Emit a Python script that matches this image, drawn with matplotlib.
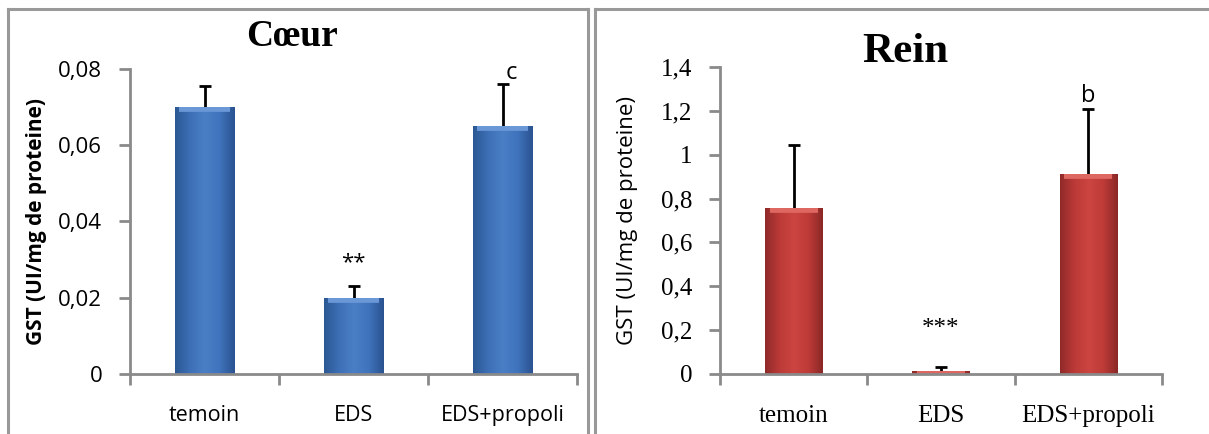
import matplotlib
matplotlib.use("Agg")
import matplotlib.pyplot as plt
import numpy as np
from matplotlib.colors import LinearSegmentedColormap
from matplotlib.lines import Line2D

categories = ["temoin", "EDS", "EDS+propoli"]

coeur_values = [0.070, 0.020, 0.065]
coeur_errors = [0.0055, 0.003, 0.011]
coeur_ticks = [0, 0.02, 0.04, 0.06, 0.08]
coeur_ticklabels = ["0", "0,02", "0,04", "0,06", "0,08"]
coeur_marks = ["", "**", "c"]
coeur_mark_y = [0.0, 0.0291, 0.0790]

rein_values = [0.755, 0.015, 0.910]
rein_errors = [0.290, 0.015, 0.300]
rein_ticks = [0, 0.2, 0.4, 0.6, 0.8, 1.0, 1.2, 1.4]
rein_ticklabels = ["0", "0,2", "0,4", "0,6", "0,8", "1", "1,2", "1,4"]
rein_marks = ["", "***", "b"]
rein_mark_y = [0.0, 0.205, 1.27]

W, H = 1209, 434
fig = plt.figure(figsize=(W / 100, H / 100), dpi=100)
fig.patch.set_facecolor("white")

GRAY = "#8a8a8a"


def px_axes(x0, x1, ytop, ybot):
    return fig.add_axes([x0 / W, (H - ybot) / H, (x1 - x0) / W, (ybot - ytop) / H])


def gradient_bars(ax, bars, cmap, hilite):
    grad = np.linspace(0, 1, 256).reshape(1, -1)
    for b in bars:
        x, y = b.get_x(), b.get_y()
        w, h = b.get_width(), b.get_height()
        im = ax.imshow(grad, cmap=cmap, aspect="auto",
                       extent=(x, x + w, y, y + h), zorder=2,
                       interpolation="bicubic")
        im.set_clip_path(b)
        # bevel highlight along the bar top (clipped inside the bar)
        ln, = ax.plot([x + 0.08 * w, x + 0.92 * w], [y + h, y + h], color=hilite,
                      linewidth=7, solid_capstyle="butt", zorder=2.2)
        ln.set_clip_path(b)


def style_axes(ax, ticks, ticklabels, tickfont, xfont, tsize, xsize):
    for s in ["top", "right"]:
        ax.spines[s].set_visible(False)
    for s in ["left", "bottom"]:
        ax.spines[s].set_color(GRAY)
        ax.spines[s].set_linewidth(2)
        ax.spines[s].set_zorder(4)
    ax.set_xlim(-0.5, 2.5)
    ax.set_ylim(ticks[0], ticks[-1])
    ax.set_yticks(ticks)
    ax.set_yticklabels(ticklabels, fontfamily=tickfont, fontsize=tsize)
    ax.tick_params(axis="y", direction="out", length=8, width=2, color=GRAY, pad=12)
    ax.set_xticks(range(len(categories)))
    ax.set_xticklabels(categories, fontfamily=xfont, fontsize=xsize)
    ax.tick_params(axis="x", which="major", length=0, pad=22)
    ax.set_xticks(np.arange(-0.5, len(categories), 1.0), minor=True)
    ax.tick_params(axis="x", which="minor", direction="out", length=8, width=2, color=GRAY)


blue_cmap = LinearSegmentedColormap.from_list(
    "b", ["#2b5893", "#3d6fb6", "#4a7fc6", "#3f73bb", "#2a5290"])
red_cmap = LinearSegmentedColormap.from_list(
    "r", ["#8f2a29", "#bb3a37", "#cc4541", "#be3b38", "#8a2826"])

# ---------- Left panel: Coeur ----------
ax1 = px_axes(130, 577, 69, 374)
ax1.errorbar(range(3), coeur_values, yerr=coeur_errors, fmt="none",
             ecolor="black", elinewidth=2, capsize=4.5, capthick=2, zorder=1.5)
bars1 = ax1.bar(range(3), coeur_values, width=0.40, color="#3d6fb6", zorder=2)
gradient_bars(ax1, bars1, blue_cmap, "#6a97d6")
style_axes(ax1, coeur_ticks, coeur_ticklabels, "Open Sans", "Open Sans", 16, 15.5)
for i, (m, yv) in enumerate(zip(coeur_marks, coeur_mark_y)):
    if m:
        ax1.text(i + (0.06 if m == "c" else 0), yv, m, ha="center", va="center",
                 fontfamily="Open Sans", fontsize=17 if m == "c" else 16)
ax1.set_ylabel("GST (UI/mg de proteine)", fontfamily="Open Sans",
               fontweight="bold", fontsize=15)
ax1.yaxis.set_label_coords(-0.185, 0.5)
fig.text(292 / W, 1 - 37 / H, "Cœur", ha="center", va="center",
         fontfamily="Liberation Serif", fontweight="bold", fontsize=27)

# ---------- Right panel: Rein ----------
ax2 = px_axes(720, 1162, 67, 374)
ax2.errorbar(range(3), rein_values, yerr=rein_errors, fmt="none",
             ecolor="black", elinewidth=2, capsize=4.5, capthick=2, zorder=1.5)
bars2 = ax2.bar(range(3), rein_values, width=0.39, color="#be3b38", zorder=2)
gradient_bars(ax2, bars2, red_cmap, "#de6761")
style_axes(ax2, rein_ticks, rein_ticklabels, "Liberation Serif", "Liberation Serif", 18, 18)
for i, (m, yv) in enumerate(zip(rein_marks, rein_mark_y)):
    if m:
        if m == "b":
            ax2.text(i, yv, m, ha="center", va="center",
                     fontfamily="Open Sans", fontsize=17)
        else:
            ax2.text(i, yv, m, ha="center", va="center",
                     fontfamily="Liberation Serif", fontsize=18)
ax2.set_ylabel("GST (UI/mg de proteine)", fontfamily="Open Sans", fontsize=16)
ax2.yaxis.set_label_coords(-0.185, 0.5)
fig.text(905 / W, 1 - 52 / H, "Rein", ha="center", va="center",
         fontfamily="Liberation Serif", fontweight="bold", fontsize=31)

# ---------- panel borders ----------
def fline(x0, y0, x1, y1):
    fig.add_artist(Line2D([x0 / W, x1 / W], [1 - y0 / H, 1 - y1 / H],
                          color="#999999", linewidth=2.2))

fline(8, 9, 588, 9)
fline(8, 9, 8, 434)
fline(588, 9, 588, 434)
fline(595, 9, 595, 434)
fline(595, 9, 1209, 9)

fig.savefig("out.png", dpi=100, facecolor="white")
